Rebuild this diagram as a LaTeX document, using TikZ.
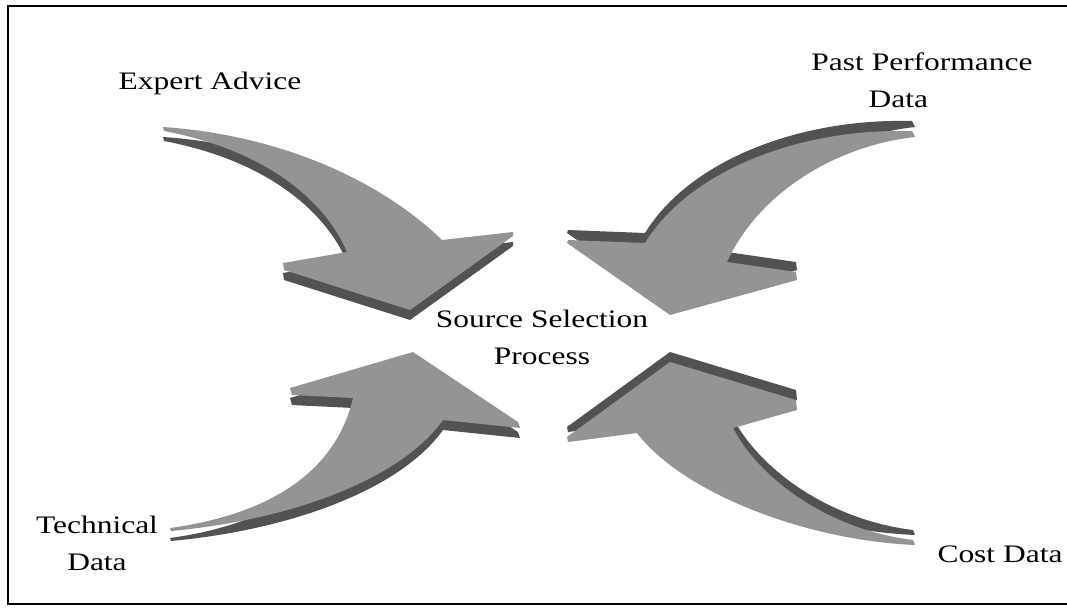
\documentclass[tikz,border=0pt]{standalone}
\usepackage{fontspec}
\setmainfont{Liberation Serif}
\newcommand\ArrExpert[1]{\fill[#1] (163,127) .. controls (280,135) and (380,180) .. (442,240) -- (513,232) -- (513,236) -- (410,310) -- (284,270) -- (283,263) -- (347,252) .. controls (325,200) and (265,150) .. (164,131) -- cycle;}
\newcommand\ArrPast[1]{\fill[#1] (912,131) .. controls (800,128) and (690,170) .. (645,243) -- (568,240) -- (567,243) -- (670,315) -- (797,280) -- (796,272) -- (727,262) .. controls (760,190) and (840,145) .. (915,137) -- cycle;}
\newcommand\ArrTech[1]{\fill[#1] (170,528) -- (171,531) .. controls (290,520) and (400,480) .. (443,420) -- (520,428) -- (518,422) -- (413,352) -- (290,388) -- (292,395) -- (353,398) .. controls (335,475) and (265,515) .. (170,528) -- cycle;}
\newcommand\ArrCost[1]{\fill[#1] (913,540) .. controls (830,530) and (760,480) .. (733,428) -- (797,410) -- (796,400) -- (670,362) -- (567,437) -- (568,442) -- (637,433) .. controls (680,490) and (800,540) .. (915,545) -- cycle;}
\newcommand\lbltext[1]{\scalebox{1}[0.8]{\begin{tabular}[t]{@{}c@{}}#1\end{tabular}}}
\begin{document}
\begin{tikzpicture}[x=0.75pt,y=-0.75pt,
  face/.style={fill=black!42},
  side/.style={fill=black!68},
  lbl/.style={anchor=base, inner sep=0pt, font=\fontsize{23.6pt}{35pt}\selectfont},
  frameline/.style={line width=1.2pt, draw=black}]
\useasboundingbox (0,0) rectangle (1067,607);
\draw[frameline] (1067,6) -- (8,6) -- (8,604) -- (1067,604);
% arrows: dark side first, top face over it
\ArrExpert{side, shift={(0,10)}}
\ArrExpert{face}
\ArrPast{side, shift={(0,-10)}}
\ArrPast{face}
\ArrTech{side, shift={(0,10)}}
\ArrTech{face}
\ArrCost{side, shift={(0,-10)}}
\ArrCost{face}
% labels
\node[lbl] (expert) at (210,89) {\lbltext{Expert Advice}};
\node[lbl] (past) at (922,70) {\lbltext{Past Performance\\Data\hspace*{1.5em}}};
\node[lbl] (center) at (542,327) {\lbltext{Source Selection\\Process}};
\node[lbl] (tech) at (97,533) {\lbltext{Technical\\Data}};
\node[lbl] (cost) at (1000,562) {\lbltext{Cost Data}};
\end{tikzpicture}
\end{document}
